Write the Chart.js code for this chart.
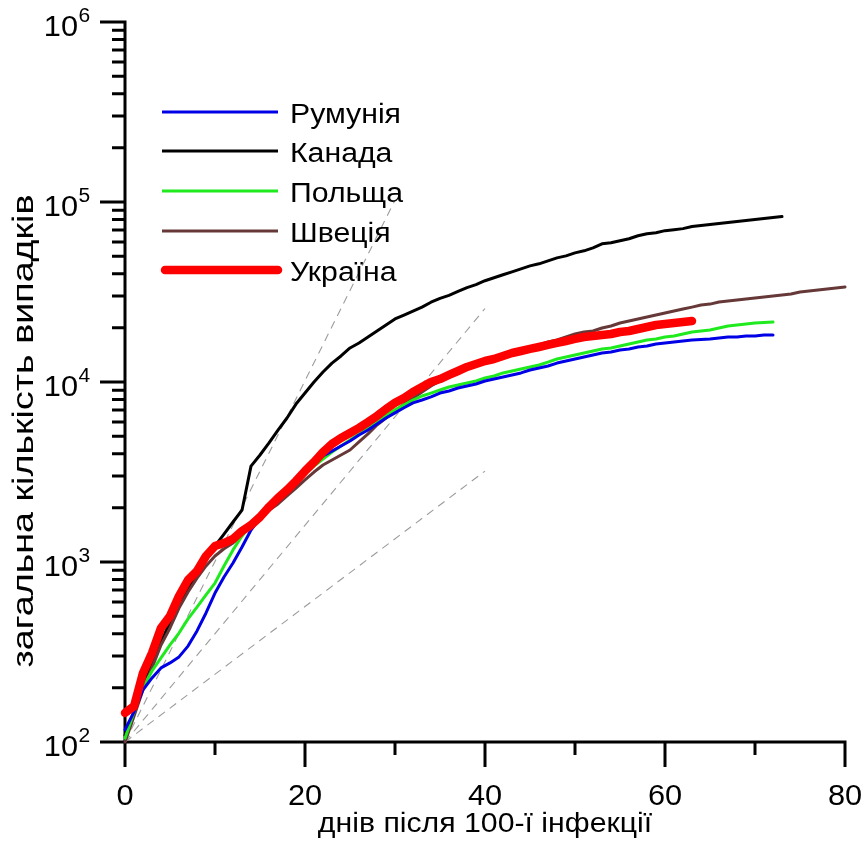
<!DOCTYPE html>
<html>
<head>
<meta charset="utf-8">
<script src="https://cdn.jsdelivr.net/npm/chart.js@4.4.0/dist/chart.umd.min.js"></script>
<style>
html,body{margin:0;padding:0;background:#fff;}
canvas{display:block;}
</style>
</head>
<body>
<canvas id="c" width="862" height="846"></canvas>
<script>
// ---- data (total cases by day since the 100th case) ----
const seriesNames = ['Румунія', 'Канада', 'Польща', 'Швеція', 'Україна'];

const romania = [117,147,195,227,258,275,297,341,414,521,672,825,987,1211,1506,1756,1995,2267,2570,2894,
  3263,3540,3880,4130,4410,4700,5080,5410,5850,6310,6740,7190,7660,7940,8260,8680,8910,9260,9500,9750,
  10130,10390,10660,10940,11230,11660,11960,12270,12740,13080,13420,13770,14130,14490,14680,15060,15260,15650,15850,16270,
  16480,16680,16900,17110,17220,17340,17560,17780,17780,18010,18010,18240,18240];

const canada = [109,147,205,278,359,464,592,717,847,1026,1227,1430,1668,1940,3410,3930,4585,5410,6310,7540,
  8680,10000,11370,12740,13950,15450,16480,17780,19200,20730,22390,23560,24780,26070,27740,29160,30310,31850,33470,34770,
  36530,37940,39410,40940,42530,44170,45340,47100,48920,50210,52160,53550,55620,58590,59340,60910,62530,64950,66680,67540,
  69330,70220,71130,73020,73960,74910,75880,76860,77850,78850,79870,80900,81940,82990];

const poland = [105,147,200,248,293,346,403,483,562,656,764,951,1167,1396,1603,1822,2050,2297,2540,2820,
  3080,3410,3730,4080,4410,4760,5150,5560,6080,6560,7000,7460,7940,8360,8680,9030,9380,9630,9870,10130,
  10520,10800,11230,11510,11810,12120,12430,12900,13420,13770,14130,14490,14870,15260,15450,15850,16270,16680,17110,17340,
  17780,18010,18480,18960,19200,19450,19950,20460,20730,21000,21270,21400,21540];

const sweden = [100,139,195,258,346,430,555,681,814,951,1080,1184,1275,1430,1583,1800,1940,2100,2330,2577,
  2855,3162,3458,3687,3930,4190,4642,5150,5770,6310,6900,7540,8120,8800,9500,10130,10660,11230,11810,12270,
  12900,13420,13950,14490,15060,15450,16060,16680,17110,17780,18480,18960,19200,19950,20460,21270,21820,22390,22960,23560,
  24170,24780,25420,26070,26750,27090,27810,28170,28530,28900,29280,29660,30040,30430,30820,31620,32030,32440,32860,33280,33710];

const ukraine = [145,158,242,312,430,501,647,794,891,1080,1227,1275,1343,1487,1603,1778,2022,2268,2512,2820,
  3200,3590,4080,4530,4890,5210,5560,5990,6480,7080,7660,8150,8800,9380,10000,10390,10940,11510,12120,12590,
  13080,13420,13950,14490,14870,15260,15650,16060,16480,16900,17340,17780,18010,18240,18480,18960,19200,19700,20210,20730,
  21000,21270,21540,21820];

// dashed doubling-time guide lines (start at day 0 / 100 cases)
const guideStartCases = 100;
const guideEndDays  = [30, 40, 40];
const guideEndCases = [102400, 25600, 3200];

// axis ticks
const xMajorTicks = [0, 20, 40, 60, 80];
const xMinorTicks = [10, 30, 50, 70];
const yDecadeExponents = [2, 3, 4, 5, 6];
const yMinorMultipliers = [2, 3, 4, 5, 6, 7, 8, 9];

const xTitle = 'днів після 100-ї інфекції';
const yTitle = 'загальна кількість випадків';

// ---- styles ----
const FONT = '"Liberation Sans", Arial, sans-serif';
const styles = {
  'Румунія': {color: '#0000e6', width: 3},
  'Канада':  {color: '#000000', width: 3},
  'Польща':  {color: '#1eea1e', width: 3},
  'Швеція':  {color: '#663838', width: 3},
  'Україна': {color: '#ff0000', width: 8.5}
};
const seriesData = {'Румунія': romania, 'Канада': canada, 'Польща': poland, 'Швеція': sweden, 'Україна': ukraine};
const drawOrder = {'Україна': 0, 'Румунія': 1, 'Польща': 2, 'Швеція': 3, 'Канада': 4};

const toPoints = arr => arr.map((v, i) => ({x: i, y: v}));

const datasets = seriesNames.map(name => ({
  label: name,
  data: toPoints(seriesData[name]),
  borderColor: styles[name].color,
  borderWidth: styles[name].width,
  pointRadius: 0,
  tension: 0,
  fill: false,
  borderJoinStyle: 'round',
  borderCapStyle: 'round',
  order: drawOrder[name],
  clip: 6
}));

guideEndDays.forEach((d, i) => {
  datasets.push({
    label: 'guide' + i,
    data: [{x: 0, y: guideStartCases}, {x: d, y: guideEndCases[i]}],
    borderColor: '#9c9c9c',
    borderWidth: 1.1,
    borderDash: [8, 6],
    pointRadius: 0,
    fill: false,
    order: 10
  });
});

function stretchText(ctx, text, x, y, sx, align) {
  ctx.save();
  ctx.translate(x, y);
  ctx.scale(sx, 1);
  ctx.textAlign = align;
  ctx.fillText(text, 0, 0);
  ctx.restore();
}

const axesPlugin = {
  id: 'axesPlugin',
  beforeDatasetsDraw(chart) {
    const {ctx} = chart;
    const xs = chart.scales.x, ys = chart.scales.y;
    const x0 = xs.getPixelForValue(0), x1 = xs.getPixelForValue(80);
    const yb = ys.getPixelForValue(100), yt = ys.getPixelForValue(1e6);
    ctx.save();
    ctx.strokeStyle = '#000';
    ctx.lineWidth = 3;
    ctx.lineCap = 'butt';
    ctx.beginPath();
    // axis lines
    ctx.moveTo(x0, yt - 1.5); ctx.lineTo(x0, yb);
    ctx.moveTo(x0, yb); ctx.lineTo(x1 + 1.5, yb);
    // x ticks
    xMajorTicks.forEach(v => { const p = xs.getPixelForValue(v); ctx.moveTo(p, yb); ctx.lineTo(p, yb + 25); });
    xMinorTicks.forEach(v => { const p = xs.getPixelForValue(v); ctx.moveTo(p, yb); ctx.lineTo(p, yb + 13); });
    // y ticks
    yDecadeExponents.forEach(e => {
      const p = ys.getPixelForValue(Math.pow(10, e));
      ctx.moveTo(x0, p); ctx.lineTo(x0 - 25, p);
      if (e < 6) {
        yMinorMultipliers.forEach(m => {
          const q = ys.getPixelForValue(m * Math.pow(10, e));
          ctx.moveTo(x0, q); ctx.lineTo(x0 - 13, q);
        });
      }
    });
    ctx.stroke();

    // labels
    ctx.fillStyle = '#000';
    ctx.textBaseline = 'alphabetic';
    ctx.font = '29px ' + FONT;
    xMajorTicks.forEach(v => {
      stretchText(ctx, String(v), xs.getPixelForValue(v), yb + 63, 1.06, 'center');
    });
    yDecadeExponents.forEach(e => {
      const p = ys.getPixelForValue(Math.pow(10, e));
      ctx.font = '29px ' + FONT;
      stretchText(ctx, '10', 78, p + 13.5, 1.06, 'right');
      ctx.font = '20px ' + FONT;
      stretchText(ctx, String(e), 78.5, p, 1.05, 'left');
    });
    // axis titles
    ctx.font = '27px ' + FONT;
    stretchText(ctx, xTitle, 485, 832, 1.12, 'center');
    ctx.save();
    ctx.translate(33, 431);
    ctx.rotate(-Math.PI / 2);
    ctx.font = '29px ' + FONT;
    const w = ctx.measureText(yTitle).width;
    ctx.scale(473 / w, 1);
    ctx.textAlign = 'center';
    ctx.fillText(yTitle, 0, 0);
    ctx.restore();
    ctx.restore();
  },
  afterDatasetsDraw(chart) {
    const {ctx} = chart;
    ctx.save();
    const rowY = [112, 151, 191, 231, 270];
    seriesNames.forEach((name, i) => {
      const st = styles[name];
      ctx.strokeStyle = st.color;
      ctx.lineWidth = st.width;
      ctx.lineCap = st.width > 4 ? 'round' : 'butt';
      ctx.beginPath();
      ctx.moveTo(st.width > 4 ? 165 : 162, rowY[i]);
      ctx.lineTo(st.width > 4 ? 278 : 278, rowY[i]);
      ctx.stroke();
      ctx.fillStyle = '#000';
      ctx.font = '27px ' + FONT;
      stretchText(ctx, name, 290, rowY[i] + 10.5, 1.12, 'left');
    });
    ctx.restore();
  }
};

new Chart(document.getElementById('c'), {
  type: 'line',
  data: {datasets},
  options: {
    responsive: false,
    animation: false,
    devicePixelRatio: 1,
    layout: {padding: {top: 22, right: 17, left: 0, bottom: 0}},
    plugins: {legend: {display: false}, tooltip: {enabled: false}},
    scales: {
      x: {
        type: 'linear', min: 0, max: 80,
        ticks: {display: false}, grid: {display: false}, border: {display: false},
        afterFit(s) { s.height = 104; }
      },
      y: {
        type: 'logarithmic', min: 100, max: 1000000,
        ticks: {display: false}, grid: {display: false}, border: {display: false},
        afterFit(s) { s.width = 125; }
      }
    }
  },
  plugins: [axesPlugin]
});
</script>
</body>
</html>
